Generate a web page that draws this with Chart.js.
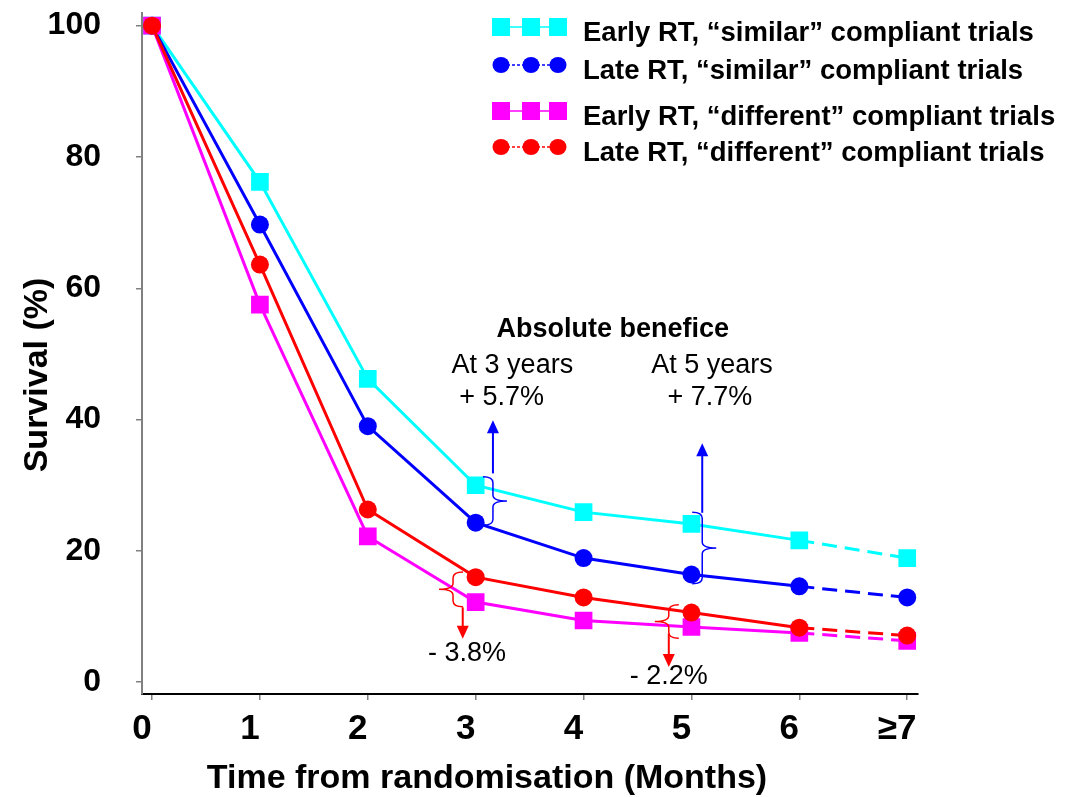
<!DOCTYPE html>
<html>
<head>
<meta charset="utf-8">
<title>Survival by RT timing</title>
<script src="https://cdn.jsdelivr.net/npm/chart.js@4.4.1/dist/chart.umd.min.js"></script>
<style>
  html, body { margin: 0; padding: 0; background: #fff; }
  #wrap { width: 1084px; height: 797px; position: relative; }
</style>
</head>
<body>
<div id="wrap"><canvas id="survivalChart"></canvas></div>
<script>
// Time axis (last point stands for ">= 7")
const months = [0, 1, 2, 3, 4, 5, 6, 7];
const monthLabels = ['0', '1', '2', '3', '4', '5', '6', '≥7'];
const survivalTicks = [0, 20, 40, 60, 80, 100];

// Survival (%) per group
const earlySimilar   = [100, 76.2, 46.2, 30.0, 25.9, 24.1, 21.6, 18.9];
const lateSimilar    = [100, 69.7, 39.0, 24.3, 18.9, 16.4, 14.6, 12.9];
const earlyDifferent = [100, 57.5, 22.2, 12.2, 9.4, 8.4, 7.5, 6.3];
const lateDifferent  = [100, 63.6, 26.3, 16.0, 12.9, 10.6, 8.3, 7.1];

const seriesNames = [
  'Early RT, \u201csimilar\u201d compliant trials',
  'Late RT, \u201csimilar\u201d compliant trials',
  'Early RT, \u201cdifferent\u201d compliant trials',
  'Late RT, \u201cdifferent\u201d compliant trials'
];

// Benefit annotations, in data units
const noteTexts = [
  { text: 'Absolute benefice', x: 4.27, y: 53.7, bold: true },
  { text: 'At 3 years', x: 3.34, y: 48.3 },
  { text: '+ 5.7%', x: 3.24, y: 43.4 },
  { text: 'At 5 years', x: 5.19, y: 48.3 },
  { text: '+ 7.7%', x: 5.17, y: 43.4 },
  { text: '- 3.8%', x: 2.92, y: 4.4 },
  { text: '- 2.2%', x: 4.79, y: 0.8 }
];
const braces = [
  { x: 3.16, from: 31.3, to: 23.9, dir: 1, color: '#0000ff' },
  { x: 5.10, from: 25.9, to: 15.0, dir: 1, color: '#0000ff' },
  { x: 2.79, from: 16.8, to: 11.5, dir: -1, color: '#ff0000' },
  { x: 4.79, from: 11.8, to: 6.7, dir: -1, color: '#ff0000' }
];
const arrows = [
  { x: 3.16, from: 31.8, to: 39.9, color: '#0000ff' },
  { x: 5.10, from: 25.8, to: 36.4, color: '#0000ff' },
  { x: 2.88, from: 11.4, to: 6.6, color: '#ff0000' },
  { x: 4.79, from: 7.4, to: 2.3, color: '#ff0000' }
];

const FONT = '"Liberation Sans", Arial, sans-serif';
const NARROW = '"Liberation Sans Narrow", "Arial Narrow", "Liberation Sans", Arial, sans-serif';

function toPoints(values) {
  return months.map((m, i) => ({ x: m, y: values[i] }));
}

function makeSet(name, values, color, style, order) {
  return {
    label: name,
    data: toPoints(values),
    borderColor: color,
    backgroundColor: color,
    borderWidth: 3,
    pointStyle: style,
    pointRadius: style === 'rect' ? 12.5 : 9,
    pointBorderWidth: 0,
    tension: 0,
    order: order,
    segment: {
      // the last step (6 -> >=7) is dashed
      borderDash: ctx => ctx.p1DataIndex === months.length - 1 ? [15, 8] : undefined
    }
  };
}

function drawBrace(ctx, x, top, bot, d) {
  const mid = (top + bot) / 2, e = 10, t = 14, r = 6;
  ctx.beginPath();
  ctx.moveTo(x - d * e, top);
  ctx.quadraticCurveTo(x, top, x, top + r);
  ctx.lineTo(x, mid - r);
  ctx.quadraticCurveTo(x, mid, x + d * t, mid);
  ctx.quadraticCurveTo(x, mid, x, mid + r);
  ctx.lineTo(x, bot - r);
  ctx.quadraticCurveTo(x, bot, x - d * e, bot);
  ctx.stroke();
}

function drawArrow(ctx, x, y0, y1) {
  const s = y1 < y0 ? -1 : 1;
  ctx.beginPath();
  ctx.moveTo(x, y0);
  ctx.lineTo(x, y1 - s * 10);
  ctx.stroke();
  ctx.beginPath();
  ctx.moveTo(x, y1);
  ctx.lineTo(x - 6, y1 - s * 13);
  ctx.lineTo(x + 6, y1 - s * 13);
  ctx.closePath();
  ctx.fill();
}

function drawMarker(ctx, style, x, y, color) {
  ctx.fillStyle = color;
  ctx.beginPath();
  if (style === 'rect') ctx.rect(x - 9, y - 9, 18, 18);
  else ctx.ellipse(x, y, 8.5, 8, 0, 0, Math.PI * 2);
  ctx.fill();
}

// legend, axis titles and the benefit notes
const overlay = {
  id: 'overlay',
  afterDraw(chart) {
    const { ctx, scales } = chart;
    const xs = scales.x, ys = scales.y;
    ctx.save();

    // axis titles
    ctx.fillStyle = '#000';
    ctx.font = 'bold 34px ' + FONT;
    ctx.textAlign = 'center';
    ctx.textBaseline = 'alphabetic';
    ctx.fillText('Time from randomisation (Months)', 487, 788);
    ctx.save();
    ctx.translate(47, 375);
    ctx.rotate(-Math.PI / 2);
    ctx.fillText('Survival (%)', 0, 0);
    ctx.restore();

    // legend
    const rows = [
      { color: '#00ffff', style: 'rect', dashed: false, y: 33 },
      { color: '#0000ff', style: 'circle', dashed: true, y: 71 },
      { color: '#ff00ff', style: 'rect', dashed: false, y: 117 },
      { color: '#ff0000', style: 'circle', dashed: true, y: 153 }
    ];
    rows.forEach((row, i) => {
      const my = row.y - 6;
      ctx.strokeStyle = row.color;
      ctx.lineWidth = 1.5;
      ctx.setLineDash(row.dashed ? [3, 2] : []);
      ctx.beginPath();
      ctx.moveTo(497, my);
      ctx.lineTo(560, my);
      ctx.stroke();
      ctx.setLineDash([]);
      [501, 531, 558].forEach(mx => drawMarker(ctx, row.style, mx, my, row.color));
      ctx.fillStyle = '#000';
      ctx.font = 'bold 27.5px ' + FONT;
      ctx.textAlign = 'left';
      ctx.textBaseline = 'middle';
      ctx.fillText(seriesNames[i], 583, row.y);
    });

    // braces and arrows
    ctx.lineWidth = 1.5;
    braces.forEach(b => {
      ctx.strokeStyle = b.color;
      drawBrace(ctx, xs.getPixelForValue(b.x), ys.getPixelForValue(b.from), ys.getPixelForValue(b.to), b.dir);
    });
    arrows.forEach(a => {
      ctx.strokeStyle = a.color;
      ctx.fillStyle = a.color;
      ctx.lineWidth = 2;
      drawArrow(ctx, xs.getPixelForValue(a.x), ys.getPixelForValue(a.from), ys.getPixelForValue(a.to));
    });

    // note texts
    ctx.fillStyle = '#000';
    ctx.textAlign = 'center';
    ctx.textBaseline = 'middle';
    noteTexts.forEach(n => {
      ctx.font = (n.bold ? 'bold ' : '') + '27px ' + FONT;
      ctx.fillText(n.text, xs.getPixelForValue(n.x), ys.getPixelForValue(n.y));
    });

    ctx.restore();
  }
};

new Chart(document.getElementById('survivalChart'), {
  type: 'line',
  data: {
    datasets: [
      makeSet(seriesNames[0], earlySimilar, '#00ffff', 'rect', 3),
      makeSet(seriesNames[1], lateSimilar, '#0000ff', 'circle', 2),
      makeSet(seriesNames[2], earlyDifferent, '#ff00ff', 'rect', 1),
      makeSet(seriesNames[3], lateDifferent, '#ff0000', 'circle', 0)
    ]
  },
  options: {
    responsive: true,
    maintainAspectRatio: false,
    animation: false,
    layout: { padding: { left: 0, top: 8, right: 166, bottom: 0 } },
    plugins: {
      legend: { display: false },
      tooltip: { enabled: false }
    },
    scales: {
      x: {
        type: 'linear',
        min: -0.093,
        max: 7.1,
        afterBuildTicks: s => { s.ticks = months.map(v => ({ value: v })); },
        afterFit: s => { s.height = 103; s.paddingLeft = 0; s.paddingRight = 0; },
        grid: { drawOnChartArea: false, drawTicks: true, tickLength: 6, color: '#808080', lineWidth: 1.5 },
        border: { color: '#000', width: 2 },
        ticks: {
          autoSkip: false,
          maxRotation: 0,
          padding: 8,
          labelOffset: -10,
          color: '#000',
          font: { family: NARROW, size: 35, weight: 'bold' },
          callback: v => monthLabels[months.indexOf(v)]
        }
      },
      y: {
        min: -1.8,
        max: 102,
        afterBuildTicks: s => { s.ticks = survivalTicks.map(v => ({ value: v })); },
        afterFit: s => { s.width = 142; s.paddingTop = 0; s.paddingBottom = 0; },
        grid: { drawOnChartArea: false, drawTicks: true, tickLength: 6, color: '#808080', lineWidth: 1.5 },
        border: { color: '#808080', width: 2 },
        ticks: {
          padding: 35,
          color: '#000',
          font: { family: FONT, size: 32, weight: 'bold' }
        }
      }
    }
  },
  plugins: [overlay]
});
</script>
</body>
</html>
